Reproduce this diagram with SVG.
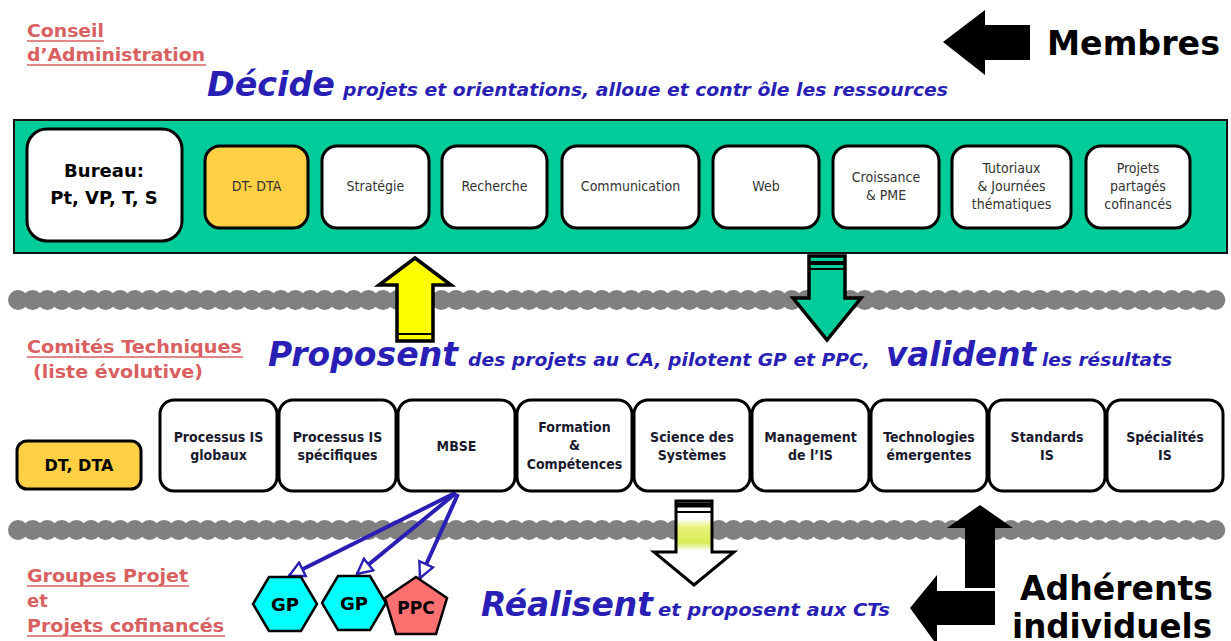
<svg xmlns="http://www.w3.org/2000/svg" width="1231" height="641" viewBox="0 0 1231 641">
  <style>
    .heading { font-family: "DejaVu Sans", "Liberation Sans", sans-serif; font-weight: bold; fill: #d96060; font-size: 18px; }
    .uline { stroke: #d96060; stroke-width: 1.5; }
    .verb { font-family: "DejaVu Sans", "Liberation Sans", sans-serif; font-weight: bold; font-style: italic; fill: #2a1fb5; font-size: 34px; }
    .phrase { font-family: "DejaVu Sans", "Liberation Sans", sans-serif; font-weight: bold; font-style: italic; fill: #2a1fb5; font-size: 18px; }
    .big { font-family: "DejaVu Sans", "Liberation Sans", sans-serif; font-weight: bold; fill: #000; font-size: 34px; }
    .box { fill: #fff; stroke: #000; stroke-width: 3; }
    .yellowbox { fill: #ffd044; stroke: #000; stroke-width: 3; }
    .lbl { font-family: "DejaVu Sans Condensed", "DejaVu Sans", sans-serif; fill: #333; font-size: 14px; text-anchor: middle; }
    .ct { font-family: "DejaVu Sans Condensed", "DejaVu Sans", sans-serif; font-weight: bold; fill: #1a1a2e; font-size: 14px; text-anchor: middle; }
    .bold { font-family: "DejaVu Sans", "Liberation Sans", sans-serif; font-weight: bold; fill: #000; text-anchor: middle; }
    .band { stroke: #808080; stroke-width: 20; stroke-linecap: round; stroke-dasharray: 0.1 14.5; fill: none; }
    .blk { fill: #000; }
    .link { stroke: #2a1fb5; stroke-width: 4; fill: none; marker-end: url(#open); }
  </style>
  <defs>
    <marker id="open" viewBox="0 0 12 12" refX="11" refY="6" markerWidth="4.5" markerHeight="4.5" markerUnits="strokeWidth" orient="auto">
      <path d="M1,1 L11,6 L1,11 Z" fill="#fff" stroke="#2a1fb5" stroke-width="1.6"/>
    </marker>
    <linearGradient id="glow" x1="0" y1="500" x2="0" y2="585" gradientUnits="userSpaceOnUse">
      <stop offset="0" stop-color="#ffffff"/>
      <stop offset="0.22" stop-color="#ffffff"/>
      <stop offset="0.32" stop-color="#e8f27a"/>
      <stop offset="0.5" stop-color="#d6ec55"/>
      <stop offset="0.6" stop-color="#ffffff"/>
      <stop offset="1" stop-color="#ffffff"/>
    </linearGradient>
  </defs>

  <rect width="1231" height="641" fill="#fff"/>

  <!-- Board level heading -->
  <g id="conseil">
    <text class="heading" x="27" y="37" textLength="77" lengthAdjust="spacingAndGlyphs">Conseil</text>
    <line class="uline" x1="27" y1="41" x2="104" y2="41"/>
    <text class="heading" x="27" y="61" textLength="178" lengthAdjust="spacingAndGlyphs">d’Administration</text>
    <line class="uline" x1="27" y1="65" x2="206" y2="65"/>
  </g>
  <g id="decide">
    <text class="verb" x="207" y="96" textLength="128" lengthAdjust="spacingAndGlyphs">Décide</text>
    <text class="phrase" x="343" y="96" textLength="605" lengthAdjust="spacingAndGlyphs">projets et orientations, alloue et contr ôle les ressources</text>
  </g>

  <!-- Membres -->
  <g id="membres">
    <polygon class="blk" points="943,42 985,10 985,25 1030,25 1030,60 985,60 985,75"/>
    <text class="big" x="1047" y="55" textLength="173" lengthAdjust="spacingAndGlyphs">Membres</text>
  </g>

  <!-- Board panel -->
  <g id="panel">
    <rect x="14" y="120" width="1213" height="133" fill="#00cc99" stroke="#111" stroke-width="2"/>
  </g>
  <g id="bureau">
    <rect class="box" x="27" y="129" width="155" height="112" rx="20"/>
    <text class="bold" x="104" y="177" font-size="18">Bureau:</text>
    <text class="bold" x="104" y="204" font-size="18">Pt, VP, T, S</text>
  </g>
  <g id="dt-dta">
    <rect class="yellowbox" x="205" y="146" width="103" height="82" rx="15"/>
    <text class="lbl" x="256.5" y="191">DT- DTA</text>
  </g>
  <g id="strategie">
    <rect class="box" x="322" y="146" width="107" height="82" rx="15"/>
    <text class="lbl" x="375.5" y="191">Stratégie</text>
  </g>
  <g id="recherche">
    <rect class="box" x="442" y="146" width="105" height="82" rx="15"/>
    <text class="lbl" x="494.5" y="191">Recherche</text>
  </g>
  <g id="communication">
    <rect class="box" x="562" y="146" width="137" height="82" rx="15"/>
    <text class="lbl" x="630.5" y="191">Communication</text>
  </g>
  <g id="web">
    <rect class="box" x="713" y="146" width="106" height="82" rx="15"/>
    <text class="lbl" x="766" y="191">Web</text>
  </g>
  <g id="croissance">
    <rect class="box" x="833" y="146" width="106" height="82" rx="15"/>
    <text class="lbl" x="886" y="182">Croissance</text>
    <text class="lbl" x="886" y="200">&amp; PME</text>
  </g>
  <g id="tutoriaux">
    <rect class="box" x="952" y="146" width="119" height="82" rx="15"/>
    <text class="lbl" x="1011.5" y="173">Tutoriaux</text>
    <text class="lbl" x="1011.5" y="191">&amp; Journées</text>
    <text class="lbl" x="1011.5" y="209">thématiques</text>
  </g>
  <g id="projets-partages">
    <rect class="box" x="1086" y="146" width="104" height="82" rx="15"/>
    <text class="lbl" x="1138" y="173">Projets</text>
    <text class="lbl" x="1138" y="191">partagés</text>
    <text class="lbl" x="1138" y="209">cofinancés</text>
  </g>

  <!-- Layer separators -->
  <g id="separators">
    <line class="band" x1="18" y1="300" x2="1218" y2="300"/>
    <line class="band" x1="18" y1="530" x2="1218" y2="530"/>
  </g>

  <!-- Flow arrows between layers -->
  <g id="connectors">
    <polygon points="415,258 451,285 433,285 433,341 397,341 397,285 379,285" fill="#ffff00" stroke="#000" stroke-width="3.5" stroke-linejoin="miter"/>
    <line x1="397" y1="334" x2="433" y2="334" stroke="#000" stroke-width="2"/>
    <polygon points="809,256 845,256 845,298 861,298 827,340 793,298 809,298" fill="#00cc99" stroke="#000" stroke-width="3.5"/>
    <line x1="809" y1="263" x2="845" y2="263" stroke="#000" stroke-width="4"/>
    <line x1="809" y1="269" x2="845" y2="269" stroke="#000" stroke-width="2"/>
    <polygon points="676,501 712,501 712,552 734,552 694,585 654,552 676,552" fill="url(#glow)" stroke="#000" stroke-width="3"/>
    <line x1="676" y1="505" x2="712" y2="505" stroke="#000" stroke-width="5"/>
    <line x1="676" y1="512" x2="712" y2="512" stroke="#000" stroke-width="2"/>
    <line class="link" x1="455" y1="493" x2="289" y2="576"/>
    <line class="link" x1="456" y1="493" x2="357" y2="574"/>
    <line class="link" x1="458" y1="494" x2="420" y2="578"/>
  </g>

  <!-- Technical committees heading -->
  <g id="comites">
    <text class="heading" x="27" y="353" textLength="215" lengthAdjust="spacingAndGlyphs">Comités Techniques</text>
    <line class="uline" x1="27" y1="357" x2="243" y2="357"/>
    <text class="heading" x="33" y="378" textLength="170" lengthAdjust="spacingAndGlyphs">(liste évolutive)</text>
  </g>
  <g id="proposent">
    <text class="verb" x="268" y="366" textLength="190" lengthAdjust="spacingAndGlyphs">Proposent</text>
    <text class="phrase" x="468" y="366" textLength="402" lengthAdjust="spacingAndGlyphs">des projets au CA, pilotent GP et PPC,</text>
    <text class="verb" x="886" y="366" textLength="150" lengthAdjust="spacingAndGlyphs">valident</text>
    <text class="phrase" x="1042" y="366" textLength="130" lengthAdjust="spacingAndGlyphs">les résultats</text>
  </g>

  <!-- Technical committees -->
  <g id="dt-dta-ct">
    <rect class="yellowbox" x="17" y="441" width="124" height="48" rx="10"/>
    <text class="bold" x="79" y="471" font-size="16">DT, DTA</text>
  </g>
  <g id="ct-processus-globaux">
    <rect class="box" x="160" y="400" width="117" height="91" rx="14"/>
    <text class="ct" x="218.5" y="442">Processus IS</text>
    <text class="ct" x="218.5" y="460">globaux</text>
  </g>
  <g id="ct-processus-specifiques">
    <rect class="box" x="279" y="400" width="117" height="91" rx="14"/>
    <text class="ct" x="337.5" y="442">Processus IS</text>
    <text class="ct" x="337.5" y="460">spécifiques</text>
  </g>
  <g id="ct-mbse">
    <rect class="box" x="398" y="400" width="117" height="91" rx="14"/>
    <text class="ct" x="456.5" y="451">MBSE</text>
  </g>
  <g id="ct-formation">
    <rect class="box" x="517" y="400" width="115" height="91" rx="14"/>
    <text class="ct" x="574.5" y="432">Formation</text>
    <text class="ct" x="574.5" y="450">&amp;</text>
    <text class="ct" x="574.5" y="469">Compétences</text>
  </g>
  <g id="ct-science">
    <rect class="box" x="634" y="400" width="116" height="91" rx="14"/>
    <text class="ct" x="692" y="442">Science des</text>
    <text class="ct" x="692" y="460">Systèmes</text>
  </g>
  <g id="ct-management">
    <rect class="box" x="752" y="400" width="117" height="91" rx="14"/>
    <text class="ct" x="810.5" y="442">Management</text>
    <text class="ct" x="810.5" y="460">de l’IS</text>
  </g>
  <g id="ct-technologies">
    <rect class="box" x="871" y="400" width="116" height="91" rx="14"/>
    <text class="ct" x="929" y="442">Technologies</text>
    <text class="ct" x="929" y="460">émergentes</text>
  </g>
  <g id="ct-standards">
    <rect class="box" x="989" y="400" width="116" height="91" rx="14"/>
    <text class="ct" x="1047" y="442">Standards</text>
    <text class="ct" x="1047" y="460">IS</text>
  </g>
  <g id="ct-specialites">
    <rect class="box" x="1107" y="400" width="116" height="91" rx="14"/>
    <text class="ct" x="1165" y="442">Spécialités</text>
    <text class="ct" x="1165" y="460">IS</text>
  </g>

  <!-- Project groups heading -->
  <g id="groupes">
    <text class="heading" x="27" y="582" textLength="161" lengthAdjust="spacingAndGlyphs">Groupes Projet</text>
    <line class="uline" x1="27" y1="586" x2="189" y2="586"/>
    <text class="heading" x="27" y="607">et</text>
    <text class="heading" x="27" y="632" textLength="197" lengthAdjust="spacingAndGlyphs">Projets cofinancés</text>
    <line class="uline" x1="27" y1="636" x2="225" y2="636"/>
  </g>

  <!-- Project groups -->
  <g id="gp-1">
    <polygon points="253,604 269,577 301,577 317,604 301,631 269,631" fill="#00ffff" stroke="#000" stroke-width="2.5"/>
    <text class="bold" x="285" y="611" font-size="18">GP</text>
  </g>
  <g id="gp-2">
    <polygon points="322,603 338,576 370,576 386,603 370,630 338,630" fill="#00ffff" stroke="#000" stroke-width="2.5"/>
    <text class="bold" x="354" y="610" font-size="18">GP</text>
  </g>
  <g id="ppc">
    <polygon points="416,577 447,598 436,634 396,634 385,598" fill="#ff7070" stroke="#000" stroke-width="2.5"/>
    <text class="bold" x="416" y="614" font-size="17">PPC</text>
  </g>

  <g id="realisent">
    <text class="verb" x="481" y="616" textLength="172" lengthAdjust="spacingAndGlyphs">Réalisent</text>
    <text class="phrase" x="658" y="616" textLength="232" lengthAdjust="spacingAndGlyphs">et proposent aux CTs</text>
  </g>

  <!-- Individual members -->
  <g id="adherents">
    <polygon class="blk" points="980,505 1013,528 995,528 995,588 965,588 965,528 947,528"/>
    <polygon class="blk" points="910,608 937,575 937,591 995,591 995,625 937,625 937,641 934,641"/>
    <text class="big" x="1020" y="600" textLength="193" lengthAdjust="spacingAndGlyphs">Adhérents</text>
    <text class="big" x="1012" y="638" textLength="200" lengthAdjust="spacingAndGlyphs">individuels</text>
  </g>
</svg>
